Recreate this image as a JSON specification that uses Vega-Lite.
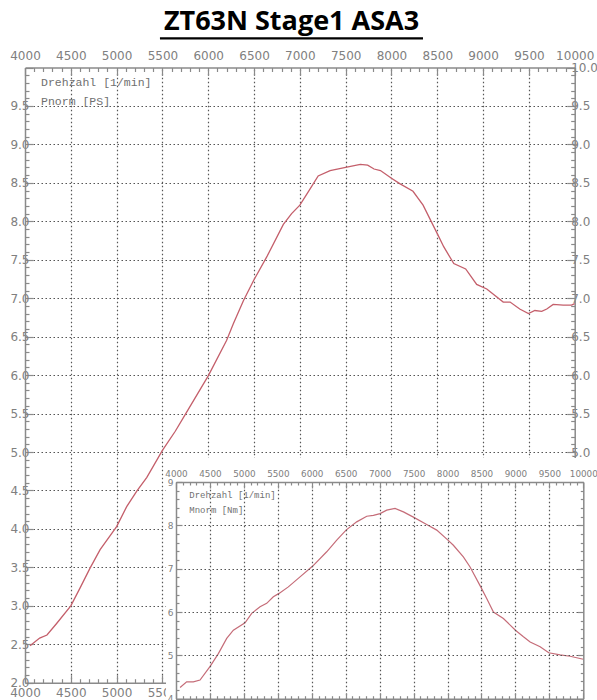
{
  "$schema": "https://vega.github.io/schema/vega-lite/v6.json",
  "width": 597,
  "height": 656,
  "autosize": "none",
  "padding": {"left": 0, "top": 44, "right": 0, "bottom": 0},
  "background": "white",
  "title": {
    "text": "ZT63N Stage1 ASA3",
    "font": "Open Sans",
    "fontSize": 27,
    "fontWeight": "bold",
    "color": "#000000",
    "anchor": "middle",
    "frame": "group",
    "dx": -7,
    "dy": 32,
    "baseline": "alphabetic",
    "offset": 12
  },
  "config": {
    "view": {"stroke": null},
    "axis": {
      "labelFont": "DejaVu Sans",
      "labelColor": "#808080",
      "domainColor": "#8a8a8a",
      "domainWidth": 1.5,
      "tickColor": "#8a8a8a",
      "tickWidth": 1.2,
      "gridColor": "#555555",
      "gridDash": [1.5, 2.5],
      "gridWidth": 1.2,
      "labelOverlap": false,
      "labelFlush": false,
      "labelBound": false
    }
  },
  "datasets": {
    "power": [
      {"rpm": 4055, "ps": 2.48}, {"rpm": 4160, "ps": 2.58}, {"rpm": 4240, "ps": 2.62}, {"rpm": 4345, "ps": 2.77},
      {"rpm": 4500, "ps": 3.0}, {"rpm": 4600, "ps": 3.23}, {"rpm": 4710, "ps": 3.49}, {"rpm": 4820, "ps": 3.73},
      {"rpm": 5000, "ps": 4.03}, {"rpm": 5110, "ps": 4.29}, {"rpm": 5220, "ps": 4.49}, {"rpm": 5330, "ps": 4.67},
      {"rpm": 5500, "ps": 5.02}, {"rpm": 5640, "ps": 5.27}, {"rpm": 5750, "ps": 5.49}, {"rpm": 6000, "ps": 5.99},
      {"rpm": 6200, "ps": 6.45}, {"rpm": 6275, "ps": 6.67}, {"rpm": 6385, "ps": 6.97}, {"rpm": 6495, "ps": 7.23},
      {"rpm": 6640, "ps": 7.54}, {"rpm": 6820, "ps": 7.96}, {"rpm": 6910, "ps": 8.1}, {"rpm": 7000, "ps": 8.21},
      {"rpm": 7100, "ps": 8.4}, {"rpm": 7200, "ps": 8.59}, {"rpm": 7330, "ps": 8.66}, {"rpm": 7500, "ps": 8.7},
      {"rpm": 7660, "ps": 8.74}, {"rpm": 7740, "ps": 8.73}, {"rpm": 7810, "ps": 8.68}, {"rpm": 7880, "ps": 8.66},
      {"rpm": 8000, "ps": 8.56}, {"rpm": 8090, "ps": 8.49}, {"rpm": 8235, "ps": 8.39}, {"rpm": 8345, "ps": 8.21},
      {"rpm": 8500, "ps": 7.84}, {"rpm": 8570, "ps": 7.67}, {"rpm": 8680, "ps": 7.45}, {"rpm": 8810, "ps": 7.38},
      {"rpm": 8930, "ps": 7.18}, {"rpm": 9040, "ps": 7.12}, {"rpm": 9220, "ps": 6.95}, {"rpm": 9295, "ps": 6.95},
      {"rpm": 9400, "ps": 6.86}, {"rpm": 9495, "ps": 6.8}, {"rpm": 9565, "ps": 6.84}, {"rpm": 9640, "ps": 6.83},
      {"rpm": 9695, "ps": 6.86}, {"rpm": 9765, "ps": 6.92}, {"rpm": 9875, "ps": 6.91}, {"rpm": 9965, "ps": 6.91},
      {"rpm": 10000, "ps": 6.93}
    ],
    "torque": [
      {"rpm": 4060, "nm": 4.26}, {"rpm": 4157, "nm": 4.39}, {"rpm": 4255, "nm": 4.39}, {"rpm": 4354, "nm": 4.43},
      {"rpm": 4500, "nm": 4.74}, {"rpm": 4624, "nm": 5.04}, {"rpm": 4747, "nm": 5.39}, {"rpm": 4845, "nm": 5.58},
      {"rpm": 5017, "nm": 5.75}, {"rpm": 5115, "nm": 5.97}, {"rpm": 5238, "nm": 6.12}, {"rpm": 5336, "nm": 6.2},
      {"rpm": 5434, "nm": 6.35}, {"rpm": 5518, "nm": 6.43}, {"rpm": 5655, "nm": 6.58}, {"rpm": 5827, "nm": 6.81},
      {"rpm": 6014, "nm": 7.06}, {"rpm": 6220, "nm": 7.39}, {"rpm": 6368, "nm": 7.66}, {"rpm": 6505, "nm": 7.89},
      {"rpm": 6662, "nm": 8.08}, {"rpm": 6810, "nm": 8.21}, {"rpm": 6908, "nm": 8.23}, {"rpm": 7006, "nm": 8.27},
      {"rpm": 7104, "nm": 8.35}, {"rpm": 7227, "nm": 8.39}, {"rpm": 7350, "nm": 8.31}, {"rpm": 7497, "nm": 8.19},
      {"rpm": 7693, "nm": 8.02}, {"rpm": 7841, "nm": 7.89}, {"rpm": 7998, "nm": 7.67}, {"rpm": 8086, "nm": 7.54},
      {"rpm": 8233, "nm": 7.27}, {"rpm": 8332, "nm": 7.04}, {"rpm": 8489, "nm": 6.58}, {"rpm": 8577, "nm": 6.31},
      {"rpm": 8676, "nm": 6.0}, {"rpm": 8823, "nm": 5.85}, {"rpm": 9000, "nm": 5.58}, {"rpm": 9118, "nm": 5.43},
      {"rpm": 9217, "nm": 5.31}, {"rpm": 9364, "nm": 5.2}, {"rpm": 9491, "nm": 5.06}, {"rpm": 9658, "nm": 5.01},
      {"rpm": 9806, "nm": 4.98}, {"rpm": 10000, "nm": 4.91}
    ]
  },
  "layer": [
    {
      "resolve": {"axis": {"x": "independent", "y": "independent"}},
      "layer": [
        {
          "data": {"name": "power"},
          "mark": {"type": "line", "color": "#c45f6b", "strokeWidth": 1.3},
          "encoding": {
            "x": {
              "field": "rpm", "type": "quantitative",
              "scale": {"domain": [4000, 10000], "range": [25, 574.7], "nice": false, "zero": false},
              "axis": {
                "orient": "top", "offset": -23.5, "title": null, "format": "d",
                "values": [4000,4100,4200,4300,4400,4500,4600,4700,4800,4900,5000,5100,5200,5300,5400,5500,5600,5700,5800,5900,6000,6100,6200,6300,6400,6500,6600,6700,6800,6900,7000,7100,7200,7300,7400,7500,7600,7700,7800,7900,8000,8100,8200,8300,8400,8500,8600,8700,8800,8900,9000,9100,9200,9300,9400,9500,9600,9700,9800,9900,10000],
                "labelExpr": "datum.value % 500 === 0 ? datum.label : ''",
                "tickSize": {"condition": {"test": "datum.value % 500 === 0", "value": -8}, "value": -4},
                "grid": true,
                "gridOpacity": {"condition": {"test": "datum.value % 500 === 0 && datum.value > 4000 && datum.value < 10000", "value": 1}, "value": 0},
                "labelFontSize": 12, "labelPadding": 13, "zindex": 0
              }
            },
            "y": {
              "field": "ps", "type": "quantitative",
              "scale": {"domain": [2, 10], "range": [638.7, 23.5], "nice": false, "zero": false},
              "axis": {
                "orient": "left", "offset": -25, "title": null, "format": ".1f",
                "values": [2,2.1,2.2,2.3,2.4,2.5,2.6,2.7,2.8,2.9,3,3.1,3.2,3.3,3.4,3.5,3.6,3.7,3.8,3.9,4,4.1,4.2,4.3,4.4,4.5,4.6,4.7,4.8,4.9,5,5.1,5.2,5.3,5.4,5.5,5.6,5.7,5.8,5.9,6,6.1,6.2,6.3,6.4,6.5,6.6,6.7,6.8,6.9,7,7.1,7.2,7.3,7.4,7.5,7.6,7.7,7.8,7.9,8,8.1,8.2,8.3,8.4,8.5,8.6,8.7,8.8,8.9,9,9.1,9.2,9.3,9.4,9.5,9.6,9.7,9.8,9.9,10],
                "labelExpr": "(abs(datum.value * 2 - round(datum.value * 2)) < 0.001 && datum.value < 9.99) ? datum.label : ''",
                "tickSize": {"condition": {"test": "abs(datum.value * 2 - round(datum.value * 2)) < 0.001", "value": -8}, "value": -4},
                "grid": true,
                "gridOpacity": {"condition": {"test": "abs(datum.value * 2 - round(datum.value * 2)) < 0.001 && datum.value > 2.01 && datum.value < 9.99", "value": 1}, "value": 0},
                "labelFontSize": 12, "labelPadding": 4, "zindex": 0
              }
            }
          }
        },
        {
          "data": {"values": [{}]},
          "mark": {"type": "text", "align": "left", "baseline": "top", "font": "Liberation Mono", "fontSize": 11.5, "color": "#707070", "lineHeight": 19},
          "encoding": {
            "text": {"value": ["Drehzahl [1/min]", "Pnorm [PS]"]},
            "x": {
              "datum": 4175, "type": "quantitative",
              "axis": {
                "orient": "bottom", "offset": -17.3, "title": null, "format": "d",
                "values": [4000,4100,4200,4300,4400,4500,4600,4700,4800,4900,5000,5100,5200,5300,5400,5500,5600,5700,5800,5900,6000,6100,6200,6300,6400,6500,6600,6700,6800,6900,7000,7100,7200,7300,7400,7500,7600,7700,7800,7900,8000,8100,8200,8300,8400,8500,8600,8700,8800,8900,9000,9100,9200,9300,9400,9500,9600,9700,9800,9900,10000],
                "labelExpr": "datum.value % 500 === 0 ? datum.label : ''",
                "tickSize": {"condition": {"test": "datum.value % 500 === 0", "value": -8}, "value": -4},
                "grid": false, "labelFontSize": 12, "labelPadding": 13, "zindex": 0
              }
            },
            "y": {
              "datum": 9.87, "type": "quantitative",
              "axis": {
                "orient": "right", "offset": -22.3, "title": null, "format": ".1f",
                "values": [2,2.1,2.2,2.3,2.4,2.5,2.6,2.7,2.8,2.9,3,3.1,3.2,3.3,3.4,3.5,3.6,3.7,3.8,3.9,4,4.1,4.2,4.3,4.4,4.5,4.6,4.7,4.8,4.9,5,5.1,5.2,5.3,5.4,5.5,5.6,5.7,5.8,5.9,6,6.1,6.2,6.3,6.4,6.5,6.6,6.7,6.8,6.9,7,7.1,7.2,7.3,7.4,7.5,7.6,7.7,7.8,7.9,8,8.1,8.2,8.3,8.4,8.5,8.6,8.7,8.8,8.9,9,9.1,9.2,9.3,9.4,9.5,9.6,9.7,9.8,9.9,10],
                "labelExpr": "abs(datum.value * 2 - round(datum.value * 2)) < 0.001 ? datum.label : ''",
                "tickSize": {"condition": {"test": "abs(datum.value * 2 - round(datum.value * 2)) < 0.001", "value": -8}, "value": -4},
                "grid": false, "labelFontSize": 12, "labelPadding": 4, "zindex": 0
              }
            }
          }
        },
        {
          "data": {"values": [{}]},
          "mark": {"type": "rule", "color": "#000000", "strokeWidth": 2.2},
          "encoding": {
            "x": {"datum": 5473, "type": "quantitative", "axis": null},
            "x2": {"datum": 8344},
            "y": {"datum": 10.38, "type": "quantitative", "axis": null}
          }
        }
      ]
    },
    {
      "resolve": {"axis": {"x": "independent", "y": "independent"}},
      "layer": [
        {
          "data": {"values": [{}]},
          "mark": {"type": "rect", "color": "#ffffff"},
          "encoding": {
            "x": {
              "datum": 3853, "type": "quantitative",
              "scale": {"domain": [4000, 10000], "range": [176, 583.3], "nice": false, "zero": false},
              "axis": null
            },
            "x2": {"datum": 10202},
            "y": {
              "datum": 9.554, "type": "quantitative",
              "scale": {"domain": [4, 9], "range": [654.7, 438], "nice": false, "zero": false},
              "axis": {
                "orient": "left", "offset": -176, "title": null, "labels": false, "grid": false,
                "domain": false,
                "values": [4.2,4.4,4.6,4.8,5.2,5.4,5.6,5.8,6.2,6.4,6.6,6.8,7.2,7.4,7.6,7.8,8.2,8.4,8.6,8.8],
                "tickSize": -3, "zindex": 1
              }
            },
            "y2": {"datum": 3.9}
          }
        },
        {
          "data": {"name": "torque"},
          "mark": {"type": "line", "color": "#c56c78", "strokeWidth": 1.2},
          "encoding": {
            "x": {
              "field": "rpm", "type": "quantitative",
              "axis": {
                "orient": "top", "offset": -438, "title": null, "format": "d",
                "values": [4000,4100,4200,4300,4400,4500,4600,4700,4800,4900,5000,5100,5200,5300,5400,5500,5600,5700,5800,5900,6000,6100,6200,6300,6400,6500,6600,6700,6800,6900,7000,7100,7200,7300,7400,7500,7600,7700,7800,7900,8000,8100,8200,8300,8400,8500,8600,8700,8800,8900,9000,9100,9200,9300,9400,9500,9600,9700,9800,9900,10000],
                "labelExpr": "datum.value % 500 === 0 ? datum.label : ''",
                "tickSize": {"condition": {"test": "datum.value % 500 === 0", "value": -6}, "value": -3},
                "grid": true,
                "gridOpacity": {"condition": {"test": "datum.value % 500 === 0 && datum.value > 4000 && datum.value < 10000", "value": 1}, "value": 0},
                "labelFontSize": 8.8, "labelPadding": 9.5, "zindex": 1
              }
            },
            "y": {
              "field": "nm", "type": "quantitative",
              "axis": {
                "orient": "left", "offset": -176, "title": null, "format": "d",
                "values": [4, 5, 6, 7, 8, 9],
                "tickSize": -6,
                "grid": true,
                "labelFontSize": 9, "labelPadding": 9, "zindex": 1
              }
            }
          }
        },
        {
          "data": {"values": [{}]},
          "mark": {"type": "text", "align": "left", "baseline": "top", "font": "Liberation Mono", "fontSize": 9, "color": "#707070", "lineHeight": 15},
          "encoding": {
            "text": {"value": ["Drehzahl [1/min]", "Mnorm [Nm]"]},
            "x": {
              "datum": 4196, "type": "quantitative",
              "axis": {
                "orient": "bottom", "offset": -1.3, "title": null, "labels": false,
                "values": [4000,4100,4200,4300,4400,4500,4600,4700,4800,4900,5000,5100,5200,5300,5400,5500,5600,5700,5800,5900,6000,6100,6200,6300,6400,6500,6600,6700,6800,6900,7000,7100,7200,7300,7400,7500,7600,7700,7800,7900,8000,8100,8200,8300,8400,8500,8600,8700,8800,8900,9000,9100,9200,9300,9400,9500,9600,9700,9800,9900,10000],
                "tickSize": {"condition": {"test": "datum.value % 500 === 0", "value": -6}, "value": -3},
                "grid": false, "zindex": 1
              }
            },
            "y": {
              "datum": 8.79, "type": "quantitative",
              "axis": {
                "orient": "right", "offset": -13.7, "title": null, "labels": false,
                "values": [4,4.2,4.4,4.6,4.8,5,5.2,5.4,5.6,5.8,6,6.2,6.4,6.6,6.8,7,7.2,7.4,7.6,7.8,8,8.2,8.4,8.6,8.8,9],
                "tickSize": {"condition": {"test": "abs(datum.value - round(datum.value)) < 0.001", "value": -6}, "value": -3},
                "grid": false, "zindex": 1
              }
            }
          }
        }
      ]
    }
  ],
  "resolve": {"scale": {"x": "independent", "y": "independent"}}
}
